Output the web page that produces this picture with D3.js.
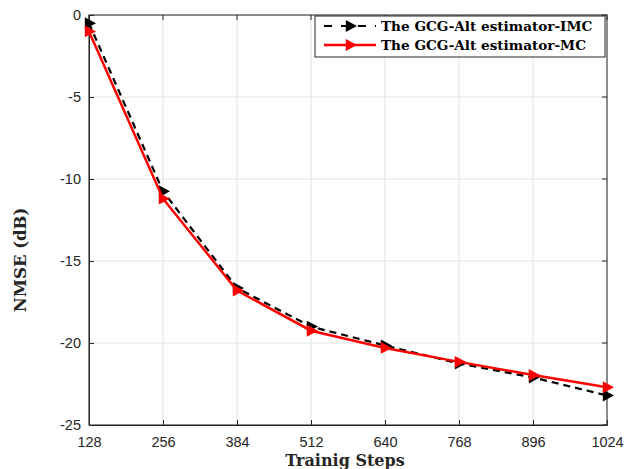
<!DOCTYPE html>
<html><head><meta charset="utf-8">
<script src="https://cdn.jsdelivr.net/npm/d3@7"></script>
<style>body{margin:0;background:#fff}</style>
</head><body>
<script>
const steps = [128, 256, 384, 512, 640, 768, 896, 1024];
const imcValues = [-0.5, -10.75, -16.65, -19.0, -20.15, -21.25, -22.1, -23.2];
const mcValues  = [-1.0, -11.2, -16.8, -19.25, -20.3, -21.15, -21.95, -22.7];
const yTicks = [0, -5, -10, -15, -20, -25];
const seriesNames = ["The GCG-Alt estimator-IMC", "The GCG-Alt estimator-MC"];

const W = 625, H = 469;
const svg = d3.select("body").append("svg").attr("width", W).attr("height", H);
const x = d3.scaleLinear().domain([128, 1024]).range([89, 607]);
const y = d3.scaleLinear().domain([-25, 0]).range([425, 15]);

// grid
svg.append("g").selectAll("line").data(steps).join("line")
  .attr("x1", d => x(d)).attr("x2", d => x(d)).attr("y1", y(0)).attr("y2", y(-25))
  .attr("stroke", "#e3e3e3").attr("stroke-width", 1);
svg.append("g").selectAll("line").data(yTicks).join("line")
  .attr("x1", x(128)).attr("x2", x(1024)).attr("y1", d => y(d)).attr("y2", d => y(d))
  .attr("stroke", "#e3e3e3").attr("stroke-width", 1);

// axes
const tickFont = "'Liberation Sans', Arial, sans-serif";
const fmt = d => String(d);
const xAxis = svg.append("g").attr("transform", `translate(0,${y(-25)})`)
  .call(d3.axisBottom(x).tickValues(steps).tickFormat(fmt).tickSizeInner(-5).tickSizeOuter(0).tickPadding(12));
const yAxis = svg.append("g").attr("transform", `translate(${x(128)},0)`)
  .call(d3.axisLeft(y).tickValues(yTicks).tickFormat(fmt).tickSizeInner(-5).tickSizeOuter(0).tickPadding(8));
[xAxis, yAxis].forEach(g => {
  g.attr("font-size", 14.5).attr("font-family", tickFont);
  g.select(".domain").attr("stroke", "#262626");
  g.selectAll(".tick line").attr("stroke", "#262626");
  g.selectAll("text").attr("fill", "#262626").attr("font-family", tickFont).attr("font-size", 14.5);
});
// top & right ticks
svg.append("g").selectAll("line").data(steps).join("line")
  .attr("x1", d => x(d)).attr("x2", d => x(d)).attr("y1", y(0)).attr("y2", y(0) + 5).attr("stroke", "#262626");
svg.append("g").selectAll("line").data(yTicks).join("line")
  .attr("x1", x(1024)).attr("x2", x(1024) - 5).attr("y1", d => y(d)).attr("y2", d => y(d)).attr("stroke", "#262626");
svg.append("rect").attr("x", x(128)).attr("y", y(0)).attr("width", x(1024) - x(128)).attr("height", y(-25) - y(0))
  .attr("fill", "none").attr("stroke", "#262626").attr("stroke-width", 1);

// labels
const serif = "'DejaVu Serif', 'Liberation Serif', serif";
svg.append("text").attr("x", 345).attr("y", 466).attr("text-anchor", "middle")
  .style("font-family", serif).style("font-weight", "bold").style("font-size", "16px").attr("fill", "#262626")
  .text("Trainig Steps");
svg.append("text").attr("transform", `translate(26,260) rotate(-90)`).attr("text-anchor", "middle")
  .style("font-family", serif).style("font-weight", "bold").style("font-size", "16.5px").attr("fill", "#262626")
  .text("NMSE (dB)");

// series
const tri = d3.symbol().type({draw(ctx, s) { const r = Math.sqrt(s) / 1.6; ctx.moveTo(r, 0); ctx.lineTo(-r * 0.6, -r * 0.85); ctx.lineTo(-r * 0.6, r * 0.85); ctx.closePath(); }}).size(125);
const line = d3.line().x((d, i) => x(steps[i])).y(d => y(d));
const series = [
  {vals: imcValues, color: "#000", dash: "7,5", width: 2.2},
  {vals: mcValues, color: "#ff0000", dash: null, width: 2.5}
];
series.forEach(s => {
  svg.append("path").datum(s.vals).attr("d", line).attr("fill", "none")
    .attr("stroke", s.color).attr("stroke-width", s.width).attr("stroke-dasharray", s.dash);
  svg.append("g").selectAll("path").data(s.vals).join("path")
    .attr("transform", (d, i) => `translate(${x(steps[i])},${y(d)})`)
    .attr("d", tri).attr("fill", s.color);
});

// legend
const lg = svg.append("g");
lg.append("rect").attr("x", 315).attr("y", 16).attr("width", 290).attr("height", 41)
  .attr("fill", "#fff").attr("stroke", "#262626").attr("stroke-width", 1);
series.forEach((s, i) => {
  const yy = 26 + i * 19;
  lg.append("line").attr("x1", 324).attr("x2", 376).attr("y1", yy).attr("y2", yy)
    .attr("stroke", s.color).attr("stroke-width", s.width).attr("stroke-dasharray", s.dash ? "8,9" : null);
  lg.append("path").attr("transform", `translate(350,${yy})`).attr("d", tri).attr("fill", s.color);
  lg.append("text").attr("x", 381).attr("y", yy + 5)
    .style("font-family", serif).style("font-weight", "bold").style("font-size", "13.6px").attr("fill", "#000")
    .text(seriesNames[i]);
});
</script>
</body></html>
